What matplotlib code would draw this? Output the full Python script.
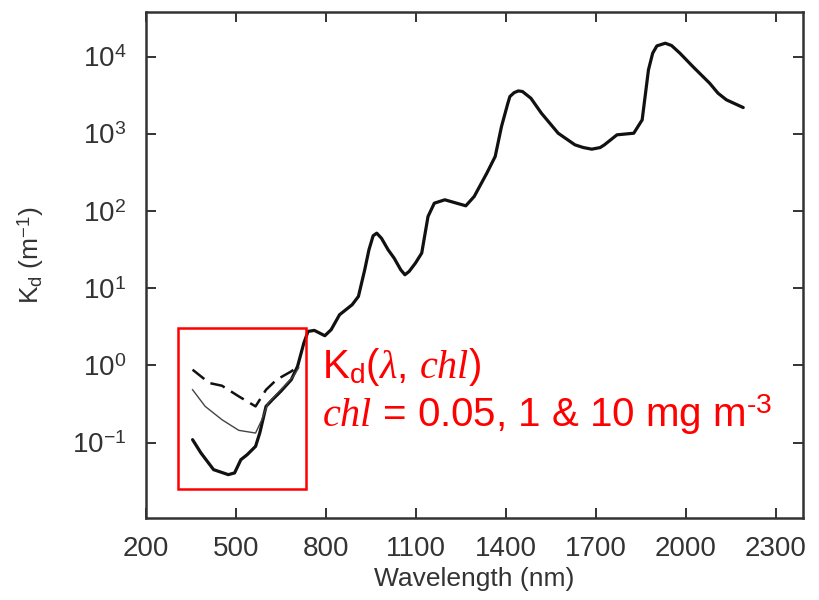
import matplotlib
matplotlib.use("Agg")
import matplotlib.pyplot as plt
from matplotlib.patches import Rectangle
import numpy as np

plt.rcParams['font.family'] = ['Liberation Sans', 'DejaVu Sans']
plt.rcParams['mathtext.fontset'] = 'custom'
plt.rcParams['mathtext.rm'] = 'Liberation Sans'
plt.rcParams['mathtext.it'] = 'Liberation Serif:italic'
plt.rcParams['mathtext.bf'] = 'Liberation Sans:bold'

# Main curve: Kd spectrum (chl = 0.05 mg m-3 / water)
wl_main = [356, 384, 426, 475, 496, 517, 538, 566, 580, 601, 622, 650, 685, 706,
           727, 741, 762, 797, 818, 846, 888, 909, 930, 944, 958, 970, 986, 1008,
           1028, 1050, 1064, 1078, 1099, 1120, 1141, 1162, 1197, 1267, 1295, 1337,
           1365, 1386, 1407, 1414, 1428, 1442, 1456, 1484, 1519, 1575, 1631, 1659,
           1687, 1715, 1729, 1771, 1827, 1855, 1876, 1890, 1904, 1932, 1953, 1981,
           2024, 2080, 2108, 2136, 2192]
log_kd_main = [-0.963, -1.136, -1.352, -1.417, -1.395, -1.223, -1.158, -1.05, -0.877,
               -0.531, -0.444, -0.336, -0.185, -0.012, 0.291, 0.442, 0.455, 0.386,
               0.464, 0.658, 0.788, 0.896, 1.242, 1.50, 1.683, 1.717, 1.65, 1.501,
               1.393, 1.242, 1.177, 1.22, 1.328, 1.458, 1.933, 2.106, 2.150, 2.072,
               2.193, 2.495, 2.712, 3.101, 3.40, 3.49, 3.54, 3.563, 3.555, 3.468,
               3.274, 3.014, 2.863, 2.828, 2.807, 2.828, 2.863, 2.993, 3.014, 3.187,
               3.836, 4.052, 4.147, 4.182, 4.152, 4.052, 3.879, 3.663, 3.533, 3.447,
               3.347]

# chl = 10 mg m-3 (dashed)
wl_chl10 = [356, 412, 454, 510, 566, 601, 636, 685, 712]
log_kd_chl10 = [-0.055, -0.228, -0.263, -0.401, -0.531, -0.315, -0.185, -0.077, 0.0]

# chl = 1 mg m-3 (thin)
wl_chl1 = [356, 398, 454, 510, 566, 587, 608, 650, 692, 710]
log_kd_chl1 = [-0.315, -0.531, -0.704, -0.842, -0.877, -0.704, -0.488, -0.315, -0.142, -0.03]

x_ticks = [200, 500, 800, 1100, 1400, 1700, 2000, 2300]
y_ticks = [1e-1, 1e0, 1e1, 1e2, 1e3, 1e4]
y_tick_labels = [r'$10^{-1}$', r'$10^{0}$', r'$10^{1}$', r'$10^{2}$', r'$10^{3}$', r'$10^{4}$']

fig = plt.figure(figsize=(8.19, 6.0), dpi=100)
ax = fig.add_axes([0.178, 0.137, 0.802, 0.8435])

ax.plot(wl_main, 10 ** np.array(log_kd_main), color='#111111', lw=2.3,
        solid_joinstyle='round', solid_capstyle='round')
ax.plot(wl_chl10, 10 ** np.array(log_kd_chl10), color='#111111', lw=1.8,
        linestyle=(0, (6, 3)))
ax.plot(wl_chl1, 10 ** np.array(log_kd_chl1), color='#444444', lw=1.0)

ax.set_yscale('log')
ax.set_xlim(200, 2390)
ax.set_ylim(10 ** -1.977, 10 ** 4.591)
ax.set_xticks(x_ticks)
ax.set_xticklabels([str(t) for t in x_ticks])
ax.set_yticks(y_ticks)
ax.set_yticklabels(y_tick_labels)
ax.yaxis.set_minor_locator(matplotlib.ticker.NullLocator())

ax.tick_params(axis='both', which='major', direction='in', length=7, width=1.4,
               top=True, right=True, labelsize=20, color='#333333', labelcolor='#333333')
ax.tick_params(axis='x', pad=13)
ax.tick_params(axis='y', pad=14)
for s in ax.spines.values():
    s.set_linewidth(1.8)
    s.set_color('#333333')

ax.set_xlabel('Wavelength (nm)', fontsize=19, color='#333333', labelpad=4)
ax.set_ylabel(r'K$_\mathrm{d}$ (m$^{-1}$)', fontsize=19, color='#333333')
ax.yaxis.set_label_coords(-0.152, 0.52)

# red box around the low-wavelength region
rect = Rectangle((307, 10 ** -1.603), 734 - 307, 10 ** 0.485 - 10 ** -1.603,
                 fill=False, edgecolor='red', lw=1.8, zorder=5)
ax.add_patch(rect)

fig.text(0.393, 0.37, r'K$_\mathrm{d}$($\lambda$, $chl$)', fontsize=29, color='red',
         ha='left', va='baseline')
fig.text(0.393, 0.288, r'$chl$ = 0.05, 1 & 10 mg m$^{\text{-}3}$', fontsize=29, color='red',
         ha='left', va='baseline')

fig.savefig('out.png', dpi=100)
